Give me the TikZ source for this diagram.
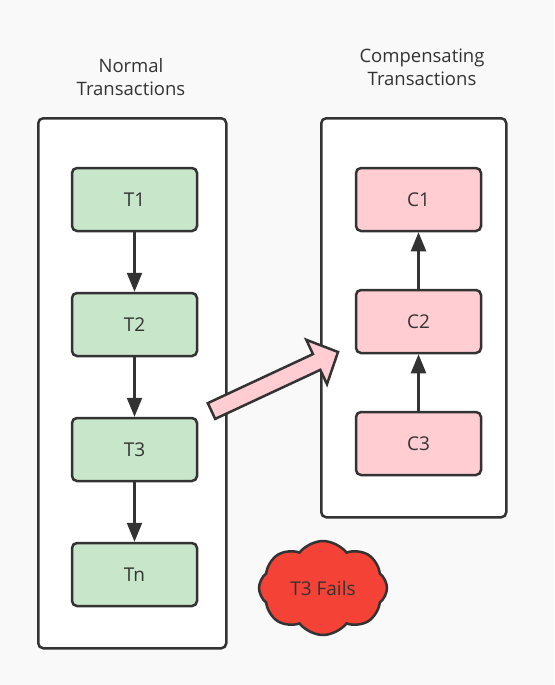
\documentclass[tikz,border=0pt]{standalone}
\usepackage{fontspec}
\setmainfont{Open Sans}
\usetikzlibrary{shapes.symbols,arrows.meta}
\definecolor{bgc}{HTML}{F9F9F9}
\definecolor{strokec}{HTML}{333333}
\definecolor{greenc}{HTML}{C8E6C9}
\definecolor{pinkc}{HTML}{FFCDD2}
\definecolor{redc}{HTML}{F44336}
\begin{document}
\begin{tikzpicture}[x=1pt,y=-1pt,
  container/.style={draw=strokec,line width=2.5pt,fill=white,rounded corners=5pt,anchor=north west,inner sep=0},
  tbox/.style={draw=strokec,line width=2.5pt,rounded corners=5pt,minimum width=125pt,minimum height=63pt,inner sep=0,font=\fontsize{19}{22}\selectfont,text=strokec},
  gbox/.style={tbox,fill=greenc},
  pbox/.style={tbox,fill=pinkc},
  flow/.style={draw=strokec,line width=2.3pt,-{Triangle[length=19pt,width=15pt]}},
  title/.style={align=center,font=\fontsize{18.5}{23}\selectfont,text=strokec}
  ]
\useasboundingbox[fill=bgc] (0,0) rectangle (554,685);
\node[container,minimum width=188pt,minimum height=530pt] (lc) at (37,117) {};
\node[container,minimum width=185pt,minimum height=399pt] (rc) at (320,117) {};
\node[title] (lt) at (131,77) {Normal\\Transactions};
\node[title] (rt) at (422,67) {Compensating\\Transactions};
\node[gbox] (t1) at (134.5,199.5) {T1};
\node[gbox] (t2) at (134.5,324.5) {T2};
\node[gbox] (t3) at (134.5,449.5) {T3};
\node[gbox] (tn) at (134.5,574.5) {Tn};
\node[pbox] (c1) at (418.5,199.5) {C1};
\node[pbox] (c2) at (418.5,321.5) {C2};
\node[pbox] (c3) at (418.5,443.5) {C3};
\draw[flow] (t1) -- (t2);
\draw[flow] (t2) -- (t3);
\draw[flow] (t3) -- (tn);
\draw[flow] (c3) -- (c2);
\draw[flow] (c2) -- (c1);
% big arrow
\begin{scope}[shift={(211.5,411)},rotate=25]
\draw[draw=strokec,line width=2.5pt,fill=pinkc,line join=miter]
  (0,-8.7) -- (116,-8.7) -- (116,-24.5) -- (139.6,0) -- (116,24.5) -- (116,8.7) -- (0,8.7) -- cycle;
\end{scope}
\node[cloud,cloud puffs=8,cloud puff arc=105,aspect=1.35,draw=strokec,line width=2.5pt,fill=redc,minimum width=128pt,minimum height=94pt,inner sep=0,font=\fontsize{19}{22}\selectfont,text=strokec] (fail) at (323,588) {T3 Fails};
\end{tikzpicture}
\end{document}
